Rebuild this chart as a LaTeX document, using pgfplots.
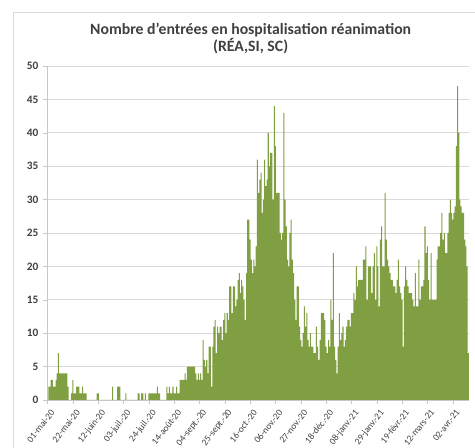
\documentclass[border=0pt]{standalone}
\usepackage{fontspec}
\setmainfont{Carlito}
\usepackage{pgfplots}
\pgfplotsset{compat=1.18}
\definecolor{barc}{RGB}{128,158,66}
\definecolor{gridc}{RGB}{217,217,217}
\definecolor{txt}{RGB}{64,64,64}
\begin{document}
\begin{tikzpicture}
\useasboundingbox (0,0) rectangle (356.25pt,336pt);
\draw[gridc] (9.75pt,0) -- (9.75pt,326.5pt) -- (356.25pt,326.5pt);
\node[font=\bfseries\fontsize{11.8}{13}\selectfont, text=txt, align=center] at (188pt,307pt)
  {Nombre d'entrées en hospitalisation réanimation\\(RÉA,SI, SC)};
\begin{axis}[
  at={(35.25pt,36pt)}, anchor=south west,
  scale only axis, width=316.5pt, height=250.5pt,
  ymin=0, ymax=50, ytick={0,5,...,50},
  xmin=-0.5, xmax=349.5,
  xtick={0,21,...,336},
  xticklabels={01-mai-20,22-mai-20,12-juin-20,03-juil.-20,24-juil.-20,14-août-20,04-sept.-20,25-sept.-20,16-oct.-20,06-nov.-20,27-nov.-20,18-déc.-20,08-janv.-21,29-janv.-21,19-févr.-21,12-mars-21,02-avr.-21},
  x tick label style={rotate=52, anchor=north east, font=\fontsize{7}{8}\selectfont, text=txt, inner sep=0.5pt, yshift=-3pt, xshift=-1pt},
  y tick label style={font=\bfseries\fontsize{8.5}{9}\selectfont, text=txt},
  /pgf/number format/assume math mode=true,
  ymajorgrids, grid style={gridc, line width=0.7pt},
  axis x line*=bottom, axis y line*=left,
  axis line style={gridc!80!gray},
  tick style={gridc!80!gray},
  major tick length=3pt, tick align=outside,
  xtick pos=bottom, ytick pos=left,
]
\addplot[ybar, bar width=0.85, fill=barc, draw=none] table[row sep=\\, header=false, x expr=\coordindex, y index=0] {
0\\2\\2\\3\\3\\2\\2\\3\\4\\7\\
4\\4\\4\\4\\4\\4\\4\\2\\0\\0\\
1\\3\\1\\1\\2\\2\\2\\1\\1\\2\\
1\\1\\1\\0\\0\\0\\0\\0\\0\\0\\
0\\1\\1\\0\\0\\0\\0\\0\\0\\0\\
0\\0\\0\\0\\2\\0\\0\\0\\2\\2\\
2\\0\\0\\0\\0\\1\\0\\0\\0\\0\\
0\\0\\0\\0\\0\\1\\1\\0\\1\\1\\
0\\1\\0\\0\\1\\1\\1\\1\\1\\1\\
1\\2\\1\\1\\0\\0\\0\\0\\0\\2\\
1\\2\\1\\1\\2\\1\\1\\2\\1\\1\\
3\\3\\3\\3\\4\\3\\5\\5\\5\\5\\
5\\5\\5\\4\\3\\4\\3\\4\\3\\9\\
6\\5\\6\\4\\8\\8\\2\\8\\11\\12\\
7\\11\\10\\11\\11\\9\\12\\13\\10\\13\\
12\\17\\17\\13\\17\\17\\14\\15\\18\\19\\
16\\18\\17\\15\\12\\19\\27\\27\\24\\21\\
19\\21\\20\\23\\36\\31\\33\\34\\28\\30\\
36\\32\\33\\40\\35\\37\\37\\30\\44\\38\\
31\\31\\31\\25\\24\\25\\43\\30\\26\\21\\
20\\25\\27\\21\\19\\15\\12\\17\\17\\11\\
9\\8\\10\\14\\11\\13\\9\\8\\10\\8\\
8\\7\\7\\11\\8\\6\\9\\13\\13\\13\\
12\\8\\7\\9\\8\\15\\12\\22\\8\\6\\
4\\8\\13\\9\\10\\11\\8\\9\\11\\12\\
12\\11\\13\\13\\16\\15\\20\\17\\18\\18\\
18\\18\\21\\21\\23\\15\\20\\20\\20\\16\\
20\\22\\15\\23\\20\\14\\24\\26\\20\\20\\
31\\24\\21\\20\\19\\18\\18\\17\\17\\16\\
18\\21\\17\\16\\15\\8\\17\\20\\18\\17\\
16\\16\\16\\15\\14\\19\\14\\14\\21\\15\\
17\\17\\18\\26\\22\\23\\18\\15\\22\\15\\
15\\15\\15\\21\\23\\23\\25\\28\\24\\25\\
22\\22\\25\\28\\30\\28\\27\\28\\29\\38\\
47\\40\\30\\29\\28\\28\\24\\23\\20\\7\\
};
\end{axis}
\end{tikzpicture}
\end{document}
